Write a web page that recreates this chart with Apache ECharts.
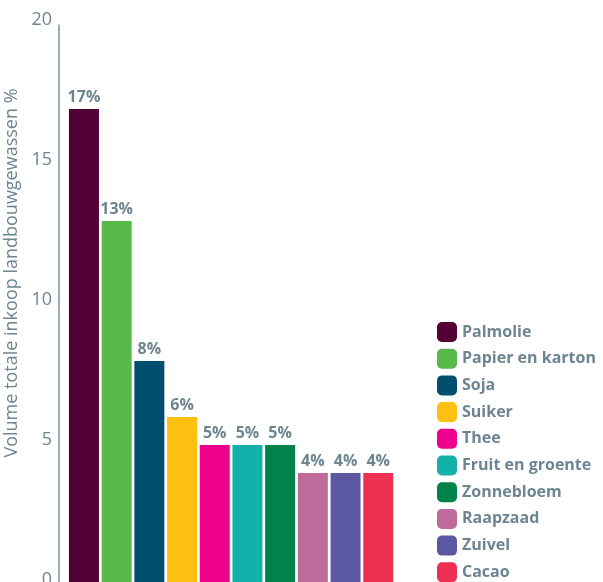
<!DOCTYPE html>
<html>
<head>
<meta charset="utf-8">
<script src="https://cdn.jsdelivr.net/npm/echarts@6/dist/echarts.min.js"></script>
<style>
    html, body { margin: 0; padding: 0; background: #fff; }
    #chart { width: 603px; height: 582px; }
</style>
</head>
<body>
<div id="chart"></div>
<script>
// categorieën en waarden (%)
var categories = ['Palmolie', 'Papier en karton', 'Soja', 'Suiker', 'Thee', 'Fruit en groente', 'Zonnebloem', 'Raapzaad', 'Zuivel', 'Cacao'];
var values = [17, 13, 8, 6, 5, 5, 5, 4, 4, 4];
var colors = ['#520033', '#56b94a', '#004f6e', '#fdc010', '#ec008c', '#14b1ab', '#00824a', '#be6b9b', '#5b57a3', '#ee3152'];
var yTicks = [0, 5, 10, 15, 20];

(function () {
    var myChart = echarts.init(document.getElementById('chart'));
    var textColor = '#6d8593';
    var font = '"Open Sans", "Noto Sans", sans-serif';

    // één serie per categorie, zodat de legenda elke kleur toont
    var series = [];
    for (var i = 0; i < categories.length; i++) {
        var data = [];
        for (var j = 0; j < categories.length; j++) {
            data.push(j === i ? values[i] : '-');
        }
        series.push({
            name: categories[i],
            type: 'bar',
            stack: 'all',
            barWidth: 30,
            color: colors[i],
            data: data,
            label: {
                show: true,
                position: 'top',
                distance: 4,
                formatter: '{c}%',
                color: textColor,
                fontSize: 16,
                fontWeight: 'bold',
                fontFamily: font
            }
        });
    }

    var option = {
        animation: false,
        grid: {
            left: 67.6,
            width: 327,
            top: 25,
            height: 560,
            outerBoundsMode: 'none',
            containLabel: false
        },
        legend: {
            orient: 'vertical',
            left: 437,
            top: 322,
            height: 270,
            padding: 0,
            itemWidth: 20,
            itemHeight: 20,
            itemGap: 6.7,
            icon: 'roundRect',
            data: categories,
            textStyle: {
                color: textColor,
                fontSize: 16,
                fontWeight: 'bold',
                fontFamily: font
            }
        },
        xAxis: {
            type: 'category',
            data: categories,
            show: false
        },
        yAxis: {
            type: 'value',
            min: yTicks[0],
            max: yTicks[yTicks.length - 1],
            interval: 5,
            offset: 8.6,
            name: 'Volume totale inkoop landbouwgewassen %',
            nameLocation: 'middle',
            nameGap: 34,
            nameTextStyle: {
                color: textColor,
                fontSize: 18,
                fontFamily: font,
                padding: [0, 0, 0, 64]
            },
            axisLine: { show: true, lineStyle: { color: '#7a919d', width: 1.5 } },
            axisTick: { show: false },
            splitLine: { show: false },
            axisLabel: {
                color: textColor,
                fontSize: 18,
                margin: 7,
                fontFamily: font,
                verticalAlign: 'bottom',
                lineHeight: 10
            }
        },
        series: series
    };

    myChart.setOption(option);

    window.addEventListener('resize', function () {
        myChart.resize();
    });
})();
</script>
</body>
</html>
